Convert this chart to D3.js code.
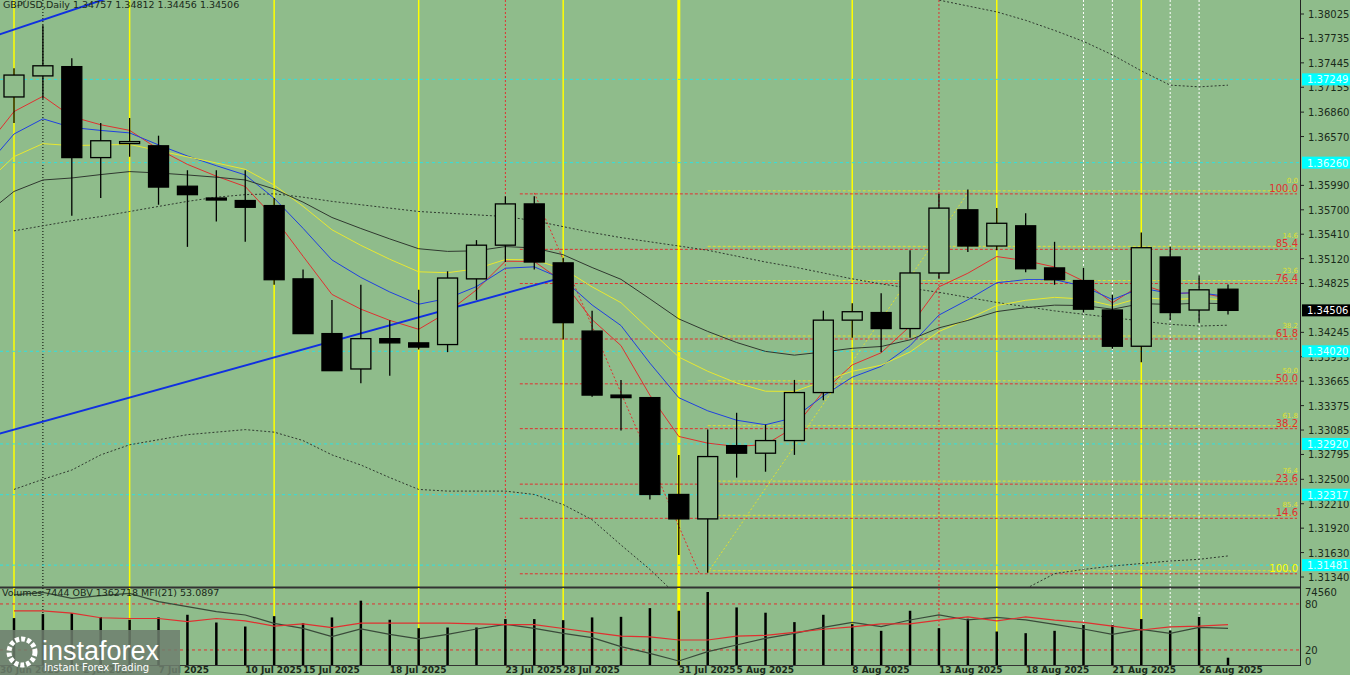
<!DOCTYPE html>
<html><head><meta charset="utf-8">
<script src="https://cdn.jsdelivr.net/npm/d3@7"></script>
<style>body{margin:0;background:#8fbc8b;}svg{display:block;font-family:"DejaVu Sans",sans-serif;}</style>
</head><body><svg id="c" width="1350" height="675"></svg>
<script>
const opens=[1.3704,1.3729,1.3740,1.3632,1.3651,1.3646,1.3598,1.3584,1.3581,1.3575,1.3488,1.3423,1.3381,1.3417,1.3412,1.3410,1.3488,1.3528,1.3577,1.3507,1.3426,1.3350,1.3347,1.3232,1.3203,1.3290,1.3281,1.3296,1.3353,1.3439,1.3448,1.3429,1.3495,1.3570,1.3527,1.3551,1.3501,1.3486,1.3451,1.3408,1.3514,1.3451,1.34757];
const highs=[1.3738,1.3789,1.3750,1.3673,1.3679,1.3658,1.3617,1.3617,1.3617,1.3584,1.3499,1.3463,1.3481,1.3439,1.3475,1.3497,1.3534,1.3586,1.3586,1.3513,1.3450,1.3368,1.3347,1.3279,1.3309,1.3329,1.3315,1.3368,1.3450,1.3459,1.3471,1.3522,1.3589,1.3594,1.3572,1.3566,1.3532,1.3501,1.3469,1.3543,1.3526,1.3492,1.34812];
const lows=[1.3673,1.3702,1.3563,1.3584,1.3633,1.3576,1.3526,1.3556,1.3532,1.3481,1.3423,1.3379,1.3364,1.3373,1.3404,1.3401,1.3463,1.3508,1.3499,1.3416,1.3348,1.3308,1.3226,1.3160,1.3139,1.3252,1.3259,1.3279,1.3344,1.3418,1.3401,1.3418,1.3488,1.3520,1.3522,1.3496,1.3481,1.3448,1.3405,1.3389,1.3439,1.3436,1.34456];
const closes=[1.3730,1.3741,1.3632,1.3652,1.3651,1.3597,1.3588,1.3582,1.3573,1.3487,1.3423,1.3379,1.3417,1.3412,1.3407,1.3489,1.3528,1.3577,1.3508,1.3436,1.3350,1.3347,1.3232,1.3203,1.3277,1.3281,1.3296,1.3353,1.3439,1.3449,1.3429,1.3495,1.3572,1.3527,1.3554,1.3500,1.3487,1.3452,1.3408,1.3525,1.3448,1.3475,1.34506];
const volumes=[47900,52000,53000,48900,46200,48600,51300,43400,39300,49900,42700,48600,65700,46200,37600,38300,38300,46900,46900,45800,48600,49200,58100,55400,74560,58800,53400,43800,51300,41700,34900,55400,37600,47200,34200,32500,34900,41000,41000,46900,35200,49200,7444];
const mfi=[71,71,68,62,61,61,57,61,58,51,54,49,55,55,55,55,54,53,53,48,43,38,37,33,33,38,39,43,47,50,54,54,59,63,58,63,59,56,51,46,50,51,53.09];
const obv=[1662.7,1686.7,1632.7,1656.7,1677.7,1602.7,1557.7,1512.7,1482.7,1407.7,1362.7,1287.7,1356.7,1308.7,1266.7,1308.7,1356.7,1398.7,1362.7,1317.7,1278.7,1197.7,1137.7,1068.7,1152.7,1212.7,1272.7,1317.7,1371.7,1416.7,1377.7,1437.7,1482.7,1437.7,1461.7,1437.7,1398.7,1356.7,1308.7,1353.7,1317.7,1371.7,1362.7];
const midBand=[1.3545,1.3551,1.3557,1.3562,1.3568,1.3574,1.3580,1.3585,1.3588,1.3589,1.3585,1.3580,1.3576,1.3572,1.3568,1.3566,1.3564,1.3562,1.3557,1.3550,1.3543,1.3537,1.3532,1.3527,1.3522,1.3515,1.3508,1.3502,1.3495,1.3488,1.3482,1.3477,1.3472,1.3466,1.3460,1.3455,1.3450,1.3446,1.3442,1.3438,1.3434,1.3432,1.3433];
const upBand=[1.3810,1.3830,1.385,1.385,1.385,1.385,1.385,1.385,1.385,1.385,1.385,1.385,1.385,1.385,1.385,1.385,1.385,1.385,1.385,1.385,1.385,1.385,1.385,1.385,1.385,1.385,1.385,1.385,1.385,1.385,1.385,1.3835,1.3819,1.3812,1.3805,1.3795,1.3783,1.3770,1.3754,1.3735,1.3718,1.3716,1.3718];
const lowBand=[1.3238,1.3250,1.3261,1.3279,1.3291,1.3297,1.3303,1.3306,1.3309,1.3306,1.3296,1.3279,1.3267,1.3252,1.3238,1.3236,1.3236,1.3236,1.3232,1.3220,1.3202,1.3172,1.3143,1.3110,1.307,1.305,1.304,1.304,1.304,1.304,1.305,1.306,1.307,1.308,1.310,1.312,1.3138,1.3143,1.3147,1.3150,1.3153,1.3155,1.3159];
const maSeeds={red:1.3665,blue:1.3640,yellow:1.3617,dark:1.3578};
const maPeriods={red:5,blue:8,yellow:13,dark:21};
const fibLevels=[100.0,85.4,76.4,61.8,50.0,38.2,23.6,14.6,0.0];
const fibHigh=1.35901, fibLow=1.31390;
const cyanLevels=[1.37249,1.36260,1.34020,1.32920,1.32317,1.31481];
const priceTicks=[1.38025,1.37735,1.37445,1.37155,1.36860,1.36570,1.35990,1.35700,1.35410,1.35120,1.34825,1.34245,1.33955,1.33665,1.33375,1.33085,1.32795,1.32500,1.32210,1.31920,1.31630,1.31340];
const yellowV=[0,4,9,14,19,23,29,34,39], redV=[17,32], whiteV=[37,38,40,41], blackV=[1];
const dateLabels=[["30 Jun 2025",-0.9],["2 Jul 2025",2.4],["7 Jul 2025",5],["10 Jul 2025",8],["15 Jul 2025",10],["18 Jul 2025",13],["23 Jul 2025",17],["28 Jul 2025",19],["31 Jul 2025",23],["5 Aug 2025",25],["8 Aug 2025",29],["13 Aug 2025",32],["18 Aug 2025",35],["21 Aug 2025",38],["26 Aug 2025",41]];
const trend1=[[0,1.3309],[18.8,1.3488]], trend2=[[0,1.3784],[4,1.3830]];

const svg=d3.select("#c");
const W=1300, PH=587, P2T=588, P2B=665;
const x=d3.scaleLinear().domain([0,42]).range([14,1228]);
const y=d3.scaleLinear().domain([1.31340,1.38025]).range([577,14]);
const yv=d3.scaleLinear().domain([0,74560]).range([P2B,592]);
const ym=d3.scaleLinear().domain([0,100]).range([665.3,588.6]);
const yo=d3.scaleLinear().domain([1032.4,1725.4]).range([665,588]);
svg.append("rect").attr("width",1350).attr("height",675).attr("fill","#8fbc8b");
const defs=svg.append("defs");
defs.append("clipPath").attr("id","cp").append("rect").attr("width",W).attr("height",PH);
defs.append("clipPath").attr("id","cp2").append("rect").attr("y",P2T).attr("width",W).attr("height",P2B-P2T+6);
const g=svg.append("g").attr("clip-path","url(#cp)");

yellowV.forEach(i=>g.append("line").attr("x1",x(i)).attr("x2",x(i)).attr("y1",0).attr("y2",PH).attr("stroke","#ffff00").attr("stroke-width",i===23?3:1.5));
redV.forEach(i=>g.append("line").attr("x1",x(i)).attr("x2",x(i)).attr("y1",0).attr("y2",PH).attr("stroke","#e03030").attr("stroke-dasharray","2,2"));
whiteV.forEach(i=>g.append("line").attr("x1",x(i)).attr("x2",x(i)).attr("y1",0).attr("y2",PH).attr("stroke","#ffffff").attr("stroke-dasharray","2,2"));
blackV.forEach(i=>g.append("line").attr("x1",x(i)).attr("x2",x(i)).attr("y1",0).attr("y2",PH).attr("stroke","#000").attr("stroke-dasharray","1,2"));
cyanLevels.forEach(p=>g.append("line").attr("x1",0).attr("x2",W).attr("y1",y(p)).attr("y2",y(p)).attr("stroke","#30e0e0").attr("stroke-dasharray","3,3"));
fibLevels.forEach(l=>{
  const p=fibLow+(fibHigh-fibLow)*l/100;
  g.append("line").attr("x1",x(17.5)).attr("x2",1297).attr("y1",y(p)+1).attr("y2",y(p)+1).attr("stroke","#e03030").attr("stroke-dasharray","3,2");
  g.append("line").attr("x1",x(24)).attr("x2",1297).attr("y1",y(p)-2).attr("y2",y(p)-2).attr("stroke","#e0e030").attr("stroke-dasharray","3,2");
  g.append("text").attr("x",1298).attr("y",y(p)-1).attr("text-anchor","end").attr("font-size",10).attr("fill",l===0?"#ffff00":"#e03030").text(l===0?"100.0":l.toFixed(1));
  if(l!==0) g.append("text").attr("x",1298).attr("y",y(p)-10).attr("text-anchor","end").attr("font-size",7).attr("fill","#e0e030").text((100-l).toFixed(1));
});
g.append("line").attr("x1",x(18)).attr("y1",y(fibHigh)).attr("x2",x(23.7)).attr("y2",y(fibLow)).attr("stroke","#e03030").attr("stroke-dasharray","2,2");
g.append("line").attr("x1",x(24)).attr("y1",y(fibLow)).attr("x2",x(33)).attr("y2",y(fibHigh)).attr("stroke","#e0e030").attr("stroke-dasharray","2,2");
const idx=d3.range(43);
const ln=arr=>d3.line().x((d,i)=>x(i)).y(d=>y(d))(arr);
[midBand,upBand,lowBand].forEach(b=>g.append("path").attr("d",ln(b)).attr("fill","none").attr("stroke","#303a30").attr("stroke-dasharray","2,2"));
const cols={red:"#e03030",blue:"#2040e0",yellow:"#e8e830",dark:"#303830"};
Object.keys(maPeriods).forEach(k=>{
  const a=2/(maPeriods[k]+1); let v=maSeeds[k]; const out=[[-0.5,v]];
  closes.forEach((c,i)=>{v=v+a*(c-v);out.push([i,v]);});
  g.append("path").attr("d",d3.line().x(d=>x(d[0])).y(d=>y(d[1]))(out)).attr("fill","none").attr("stroke",cols[k]).attr("stroke-width",1);
});
[trend1,trend2].forEach(t=>{
  const s=(t[1][1]-t[0][1])/(t[1][0]-t[0][0]);
  g.append("line").attr("x1",x(-0.5)).attr("y1",y(t[0][1]-0.5*s)).attr("x2",x(t[1][0])).attr("y2",y(t[1][1])).attr("stroke","#1030e0").attr("stroke-width",2);
});
const bw=20;
idx.forEach(i=>{
  const o=opens[i],c=closes[i],bull=c>=o;
  g.append("line").attr("x1",x(i)).attr("x2",x(i)).attr("y1",y(highs[i])).attr("y2",y(lows[i])).attr("stroke","#000").attr("stroke-width",1.3);
  const t=y(Math.max(o,c)),b=y(Math.min(o,c));
  g.append("rect").attr("x",x(i)-bw/2).attr("y",t).attr("width",bw).attr("height",Math.max(b-t,2)).attr("fill",bull?"#8fbc8b":"#000").attr("stroke","#000").attr("stroke-width",1.3);
});
svg.append("text").attr("x",3).attr("y",8).attr("font-size",9.5).attr("fill","#1a2a1a").text("GBPUSD,Daily  1.34757 1.34812 1.34456 1.34506");
svg.append("line").attr("x1",W+0.5).attr("x2",W+0.5).attr("y1",0).attr("y2",P2B+1).attr("stroke","#222");
priceTicks.forEach(p=>{
  svg.append("line").attr("x1",W).attr("x2",W+4).attr("y1",y(p)).attr("y2",y(p)).attr("stroke","#222");
  svg.append("text").attr("x",W+8).attr("y",y(p)+4).attr("font-size",10).attr("fill","#1a2a1a").text(p.toFixed(5));
});
cyanLevels.forEach(p=>{
  svg.append("rect").attr("x",W+2).attr("y",y(p)-6).attr("width",48).attr("height",12).attr("fill","#00ffff");
  svg.append("text").attr("x",W+7).attr("y",y(p)+4).attr("font-size",10).attr("fill","#e0ffff").text(p.toFixed(5));
});
svg.append("rect").attr("x",W+2).attr("y",y(closes[42])-6).attr("width",48).attr("height",12).attr("fill","#000");
svg.append("text").attr("x",W+7).attr("y",y(closes[42])+4).attr("font-size",10).attr("fill","#fff").text(closes[42].toFixed(5));
svg.append("line").attr("x1",0).attr("x2",W).attr("y1",PH+0.5).attr("y2",PH+0.5).attr("stroke","#333").attr("stroke-width",2);
svg.append("line").attr("x1",0).attr("x2",W).attr("y1",P2B+0.5).attr("y2",P2B+0.5).attr("stroke","#333");
const g2=svg.append("g").attr("clip-path","url(#cp2)");
yellowV.forEach(i=>g2.append("line").attr("x1",x(i)).attr("x2",x(i)).attr("y1",P2T).attr("y2",P2B).attr("stroke","#ffff00").attr("stroke-width",i===23?3:1.5));
redV.forEach(i=>g2.append("line").attr("x1",x(i)).attr("x2",x(i)).attr("y1",P2T).attr("y2",P2B).attr("stroke","#e03030").attr("stroke-dasharray","2,2"));
whiteV.forEach(i=>g2.append("line").attr("x1",x(i)).attr("x2",x(i)).attr("y1",P2T).attr("y2",P2B).attr("stroke","#ffffff").attr("stroke-dasharray","2,2"));
blackV.forEach(i=>g2.append("line").attr("x1",x(i)).attr("x2",x(i)).attr("y1",P2T).attr("y2",P2B).attr("stroke","#000").attr("stroke-dasharray","1,2"));
[80,20].forEach(l=>g2.append("line").attr("x1",0).attr("x2",W).attr("y1",ym(l)).attr("y2",ym(l)).attr("stroke","#e03030").attr("stroke-dasharray","3,3"));
idx.forEach(i=>g2.append("line").attr("x1",x(i)).attr("x2",x(i)).attr("y1",yv(0)).attr("y2",yv(volumes[i])).attr("stroke","#000").attr("stroke-width",2.5));
g2.append("path").attr("d",d3.line().x((d,i)=>x(i)).y(d=>yo(d))(obv)).attr("fill","none").attr("stroke","#3a4a3a").attr("stroke-width",1.2);
g2.append("path").attr("d",d3.line().x((d,i)=>x(i)).y(d=>ym(d))(mfi)).attr("fill","none").attr("stroke","#e03030").attr("stroke-width",1.2);
svg.append("text").attr("x",2).attr("y",596).attr("font-size",9.5).attr("fill","#1a2a1a").text("Volumes 7444  OBV 1362718  MFI(21) 53.0897");
[["74560",596],["80",ym(80)+4],["20",ym(20)+4],["0",ym(0)]].forEach(d=>svg.append("text").attr("x",W+5).attr("y",d[1]).attr("font-size",10).attr("fill","#1a2a1a").text(d[0]));
dateLabels.forEach(d=>svg.append("text").attr("x",Math.max(0,x(d[1]))).attr("y",673).attr("font-size",9).attr("font-weight","bold").attr("fill","#1a2a1a").text(d[0]));
const lg=svg.append("g");
lg.append("rect").attr("x",0).attr("y",630).attr("width",180).attr("height",45).attr("fill","#6f7f6f").attr("opacity",0.85);
lg.append("circle").attr("cx",22).attr("cy",652).attr("r",13).attr("fill","none").attr("stroke","#fff").attr("stroke-width",5).attr("stroke-dasharray","4,2");
lg.append("text").attr("x",42).attr("y",660).attr("font-size",27).attr("fill","#fff").attr("font-family","Arial, sans-serif").text("instaforex");
lg.append("text").attr("x",44).attr("y",671).attr("font-size",10).attr("fill","#fff").text("Instant Forex Trading");
</script></body></html>
